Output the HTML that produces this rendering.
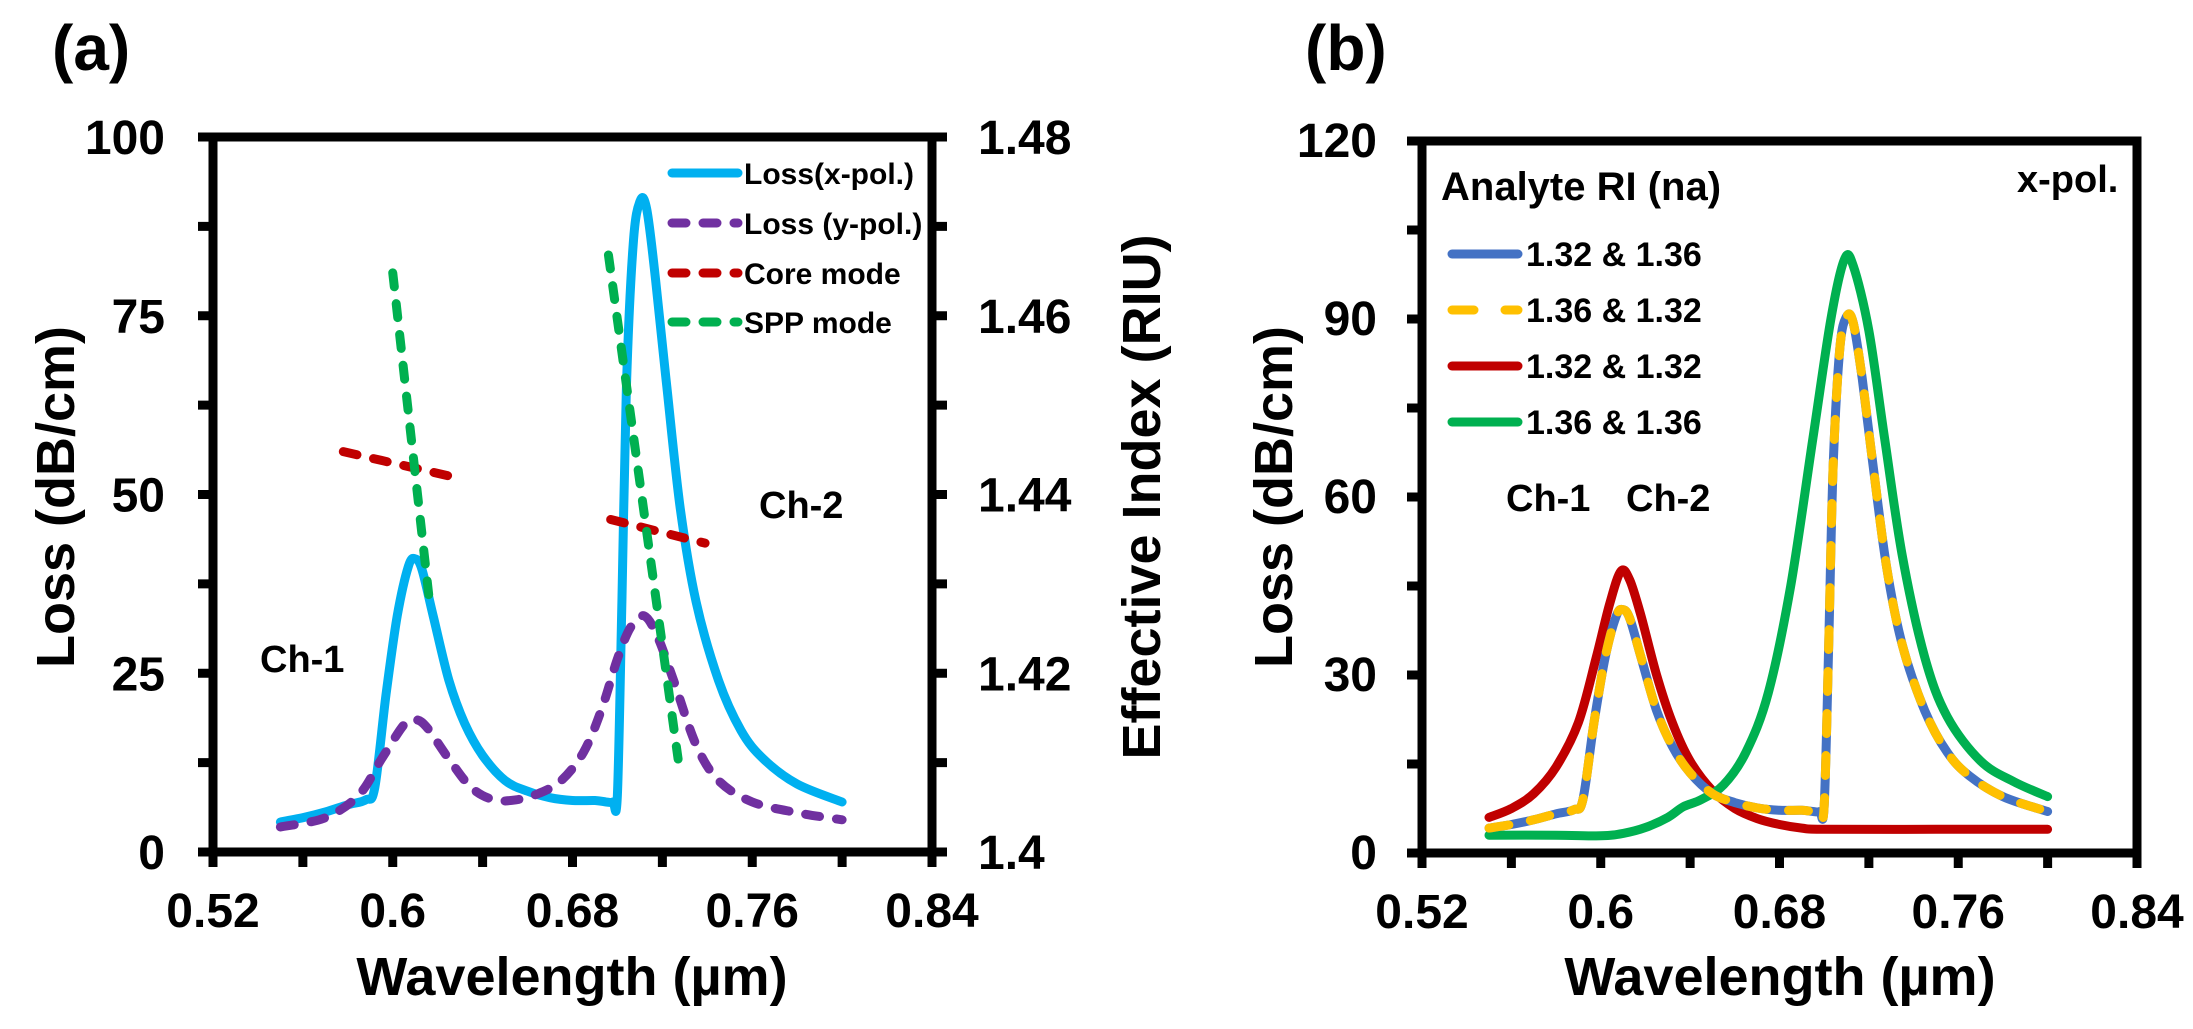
<!DOCTYPE html>
<html><head><meta charset="utf-8"><style>
html,body{margin:0;padding:0;background:#fff;}
svg{display:block;font-family:"Liberation Sans",Arial,sans-serif;font-weight:bold;}
</style></head><body>
<svg id="s" width="2193" height="1029" viewBox="0 0 2193 1029" xmlns="http://www.w3.org/2000/svg">
<rect width="2193" height="1029" fill="#fff"/>
<g id="g"></g>
<text x="52" y="70" font-size="64">(a)</text>
<text x="1305" y="70" font-size="64">(b)</text>
<text transform="translate(74,497) rotate(-90)" font-size="54" text-anchor="middle">Loss (dB/cm)</text>
<text transform="translate(1160,497) rotate(-90)" font-size="54" text-anchor="middle">Effective Index (RIU)</text>
<text transform="translate(1292,497) rotate(-90)" font-size="54" text-anchor="middle">Loss (dB/cm)</text>
<text x="572" y="995" font-size="54" text-anchor="middle">Wavelength (µm)</text>
<text x="1780" y="995" font-size="54" text-anchor="middle">Wavelength (µm)</text>
<text x="260" y="672" font-size="38">Ch-1</text>
<text x="759" y="518" font-size="38">Ch-2</text>
<text x="1506" y="511" font-size="38">Ch-1</text>
<text x="1626" y="511" font-size="38">Ch-2</text>
<text x="2017" y="192" font-size="38">x-pol.</text>
<text x="1441" y="200" font-size="40">Analyte RI (na)</text>
<g font-size="30">
<text x="744" y="184">Loss(x-pol.)</text>
<text x="744" y="234">Loss (y-pol.)</text>
<text x="744" y="284">Core mode</text>
<text x="744" y="333">SPP mode</text>
</g>
<g stroke-width="9" stroke-linecap="round" fill="none">
<line x1="672" y1="173" x2="738" y2="173" stroke="#00B0F0"/>
<line x1="672" y1="223" x2="738" y2="223" stroke="#7030A0" stroke-dasharray="14 17"/>
<line x1="672" y1="273" x2="738" y2="273" stroke="#C00000" stroke-dasharray="14 17"/>
<line x1="672" y1="322" x2="738" y2="322" stroke="#00B050" stroke-dasharray="14 17"/>
<line x1="1452" y1="254" x2="1518" y2="254" stroke="#4472C4"/>
<line x1="1452" y1="310" x2="1518" y2="310" stroke="#FFC000" stroke-dasharray="22 31"/>
<line x1="1452" y1="366" x2="1518" y2="366" stroke="#C00000"/>
<line x1="1452" y1="422" x2="1518" y2="422" stroke="#00B050"/>
</g>
<g font-size="34">
<text x="1526" y="266">1.32 &amp; 1.36</text>
<text x="1526" y="322">1.36 &amp; 1.32</text>
<text x="1526" y="378">1.32 &amp; 1.32</text>
<text x="1526" y="434">1.36 &amp; 1.36</text>
</g>
</svg>
<script>
const NS="http://www.w3.org/2000/svg",G=document.getElementById('g');
function el(t,a,txt){const e=document.createElementNS(NS,t);for(const k in a)e.setAttribute(k,a[k]);if(txt!==undefined)e.textContent=txt;G.appendChild(e);return e;}
function path(pts){let d="M"+pts[0][0].toFixed(1)+","+pts[0][1].toFixed(1);
 for(let i=0;i<pts.length-1;i++){const p0=pts[i-1]||pts[i],p1=pts[i],p2=pts[i+1],p3=pts[i+2]||p2;
  const c1=[p1[0]+(p2[0]-p0[0])/6,p1[1]+(p2[1]-p0[1])/6],c2=[p2[0]-(p3[0]-p1[0])/6,p2[1]-(p3[1]-p1[1])/6];
  d+=" C"+c1.map(v=>v.toFixed(1))+" "+c2.map(v=>v.toFixed(1))+" "+p2.map(v=>v.toFixed(1));}
 return d;}
// panel A
const A={x0:213,x1:932,y0:852,y1:137},B={x0:1422,x1:2137,y0:853,y1:141};
const ax=w=>A.x0+(w-0.52)/0.32*(A.x1-A.x0), ay=L=>A.y0-L/100*(A.y0-A.y1);
const bx=w=>B.x0+(w-0.52)/0.32*(B.x1-B.x0), by=L=>B.y0-L/120*(B.y0-B.y1);
const xpol=[[0.55,4.2],[0.56,4.8],[0.57,5.6],[0.58,6.6],[0.588,7.3],[0.592,9],[0.597,22],[0.602,33],[0.607,40],[0.610,41],[0.613,39.5],[0.618,33],[0.625,24],[0.632,18],[0.64,13.5],[0.65,10],[0.66,8.5],[0.67,7.6],[0.68,7.2],[0.69,7.2],[0.695,7.0],[0.698,7.0],[0.700,8],[0.702,35],[0.704,65],[0.707,85],[0.710,91],[0.713,90],[0.717,80],[0.722,65],[0.728,48],[0.735,35],[0.745,24],[0.755,17],[0.765,13],[0.78,9.5],[0.80,7]];
const ypol=[[0.55,3.5],[0.57,4.8],[0.585,8],[0.595,13],[0.605,17.8],[0.61,18.5],[0.615,17.5],[0.625,13],[0.635,9],[0.645,7.3],[0.655,7.3],[0.665,8.2],[0.675,10],[0.685,14],[0.693,20],[0.700,27],[0.706,31.5],[0.712,33],[0.718,30],[0.725,24],[0.735,15],[0.745,10],[0.76,7],[0.78,5.5],[0.80,4.5]];
const red=[[0.55,6],[0.56,7.5],[0.57,10],[0.58,14.5],[0.59,22],[0.598,33],[0.604,42],[0.609,47.5],[0.613,46],[0.618,40],[0.625,30],[0.632,22],[0.64,15.5],[0.65,10.5],[0.66,7.5],[0.67,5.8],[0.68,4.8],[0.69,4.2],[0.70,4],[0.75,4],[0.80,4]];
const grn=[[0.55,3],[0.58,3],[0.60,2.9],[0.61,3.3],[0.62,4.3],[0.63,6],[0.637,7.8],[0.645,9],[0.655,11.5],[0.665,17],[0.675,27],[0.685,45],[0.695,70],[0.703,90],[0.709,100],[0.713,99],[0.72,88],[0.727,70],[0.735,50],[0.745,33],[0.755,23],[0.77,15.5],[0.785,12],[0.80,9.5]];
const blue=xpol.map(p=>[p[0],p[1]>88?p[1]-0.6:p[1]]);
function curve(data,fx,fy,col,dash){el('path',{d:path(data.map(p=>[fx(p[0]),fy(p[1])])),fill:'none',stroke:col,'stroke-width':9,'stroke-linecap':'round','stroke-linejoin':'round','stroke-dasharray':dash||'none'});}
curve(xpol,ax,ay,'#00B0F0');
curve(ypol,ax,ay,'#7030A0','14 17');
function seg(a,b,col){el('line',{x1:ax(a[0]),y1:ay(a[1]),x2:ax(b[0]),y2:ay(b[1]),stroke:col,'stroke-width':9,'stroke-linecap':'round','stroke-dasharray':'14 17'});}
seg([0.578,56],[0.629,52.3],'#C00000');seg([0.697,46.5],[0.739,43.2],'#C00000');
seg([0.600,81],[0.616,36],'#00B050');seg([0.696,83.5],[0.727,13],'#00B050');
curve(red,bx,by,'#C00000');curve(grn,bx,by,'#00B050');curve(blue,bx,by,'#4472C4');curve(blue,bx,by,'#FFC000','20 22');
// axes
function box(P){el('rect',{x:P.x0,y:P.y1,width:P.x1-P.x0,height:P.y0-P.y1,fill:'none',stroke:'#000','stroke-width':9});}
box(A);box(B);
function L(x1,y1,x2,y2){el('line',{x1,y1,x2,y2,stroke:'#000','stroke-width':9});}
for(let i=0;i<=8;i++){const w=0.52+i*0.04;L(ax(w),A.y0,ax(w),A.y0+15);L(bx(w),B.y0,bx(w),B.y0+15);}
['0.52','0.6','0.68','0.76','0.84'].forEach((t,i)=>{const w=0.52+i*0.08;
 el('text',{x:ax(w),y:927,'font-size':48,'text-anchor':'middle'},t);el('text',{x:bx(w),y:928,'font-size':48,'text-anchor':'middle'},t);});
for(let i=0;i<=8;i++){const y=A.y0-i*(A.y0-A.y1)/8;L(A.x0-15,y,A.x0,y);L(A.x1,y,A.x1+15,y);
 const yb=B.y0-i*(B.y0-B.y1)/8;L(B.x0-15,yb,B.x0,yb);}
[0,25,50,75,100].forEach(v=>el('text',{x:165,y:ay(v)+17,'font-size':48,'text-anchor':'end'},String(v)));
['1.4','1.42','1.44','1.46','1.48'].forEach((t,i)=>el('text',{x:978,y:A.y0-i*(A.y0-A.y1)/4+17,'font-size':48},t));
[0,30,60,90,120].forEach(v=>el('text',{x:1377,y:by(v)+16,'font-size':48,'text-anchor':'end'},String(v)));
</script>
</body></html>
